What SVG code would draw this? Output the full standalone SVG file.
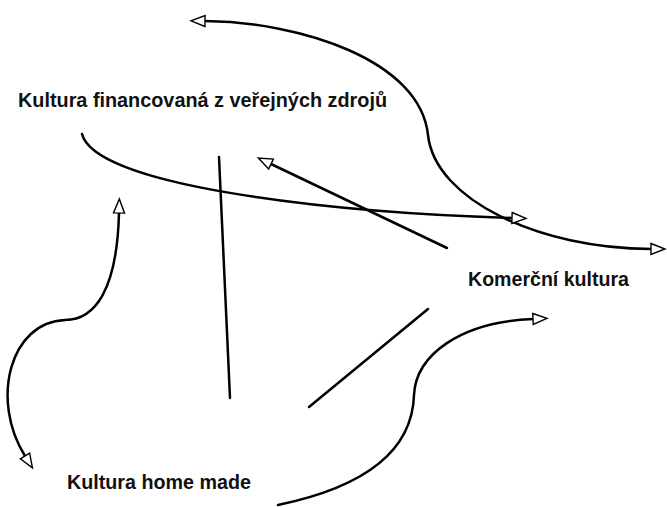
<svg xmlns="http://www.w3.org/2000/svg" width="667" height="507" viewBox="0 0 667 507">
  <style>
    .lbl { font-family: "Liberation Sans", Arial, sans-serif; font-weight: bold; font-size: 20px; fill: #111; }
    .edge { fill: none; stroke: #000; stroke-width: 2.5; stroke-linecap: round; }
  </style>
  <defs>
    <marker id="arr" markerUnits="userSpaceOnUse" markerWidth="18" markerHeight="14" refX="1" refY="6" orient="auto-start-reverse" overflow="visible">
      <path d="M1,0.5 L15,6 L1,11.5 Z" fill="#fff" stroke="#000" stroke-width="1.4" stroke-linejoin="miter"/>
    </marker>
  </defs>
  <rect width="667" height="507" fill="#fff"/>
  <g id="connectors">
    <path class="edge" d="M 205 21 C 300 22, 420 60, 428 135 C 435 200, 540 249, 651 249" marker-start="url(#arr)" marker-end="url(#arr)"/>
    <path class="edge" d="M 82 134 C 95 185, 320 212, 512 218" marker-end="url(#arr)"/>
    <path class="edge" d="M 447 248 L 271 164" marker-end="url(#arr)"/>
    <path class="edge" d="M 219 157 L 230 398"/>
    <path class="edge" d="M 309 407 L 428 309"/>
    <path class="edge" d="M 278 505 C 350 490, 412 460, 414 395 C 416 355, 460 322, 533 319" marker-end="url(#arr)"/>
    <path class="edge" d="M 119 213 C 117 290, 95 320, 65 320 C 10 322, -10 400, 25 456" marker-start="url(#arr)" marker-end="url(#arr)"/>
  </g>
  <g id="node-verejne">
    <text class="lbl" x="18" y="107" textLength="369" lengthAdjust="spacingAndGlyphs">Kultura financovaná z veřejných zdrojů</text>
  </g>
  <g id="node-komercni">
    <text class="lbl" x="468" y="286" textLength="161" lengthAdjust="spacingAndGlyphs">Komerční kultura</text>
  </g>
  <g id="node-homemade">
    <text class="lbl" x="67" y="489" textLength="184" lengthAdjust="spacingAndGlyphs">Kultura home made</text>
  </g>
</svg>
